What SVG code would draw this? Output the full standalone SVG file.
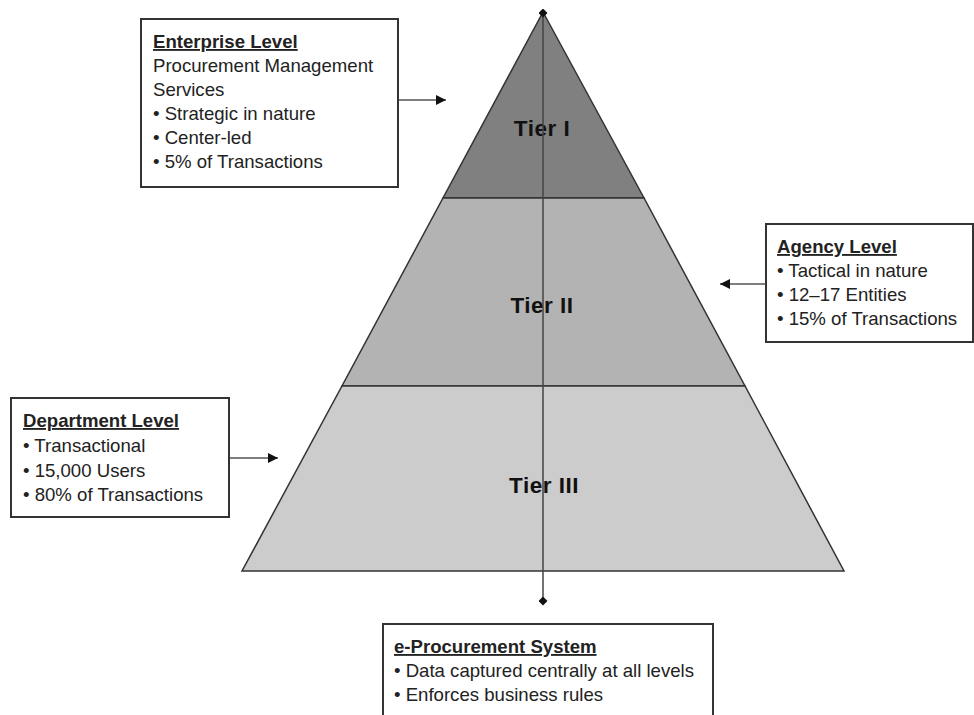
<svg xmlns="http://www.w3.org/2000/svg" width="974" height="715" viewBox="0 0 974 715">
<style>
.t{font-family:"Liberation Sans",Arial,sans-serif;font-size:18.6px;fill:#222}
.h{font-weight:bold;text-decoration:underline}
.tier{font-family:"Liberation Sans",Arial,sans-serif;font-size:22.5px;font-weight:bold;fill:#111;letter-spacing:0.5px;text-anchor:middle}
.box{fill:#fff;stroke:#333;stroke-width:2}
.lvl{stroke:#333;stroke-width:1.5}
.arr{stroke:#555;stroke-width:1.5;fill:none;marker-end:url(#ah)}
</style>
<defs>
<marker id="ah" viewBox="0 0 10 10" refX="10" refY="5" markerWidth="10" markerHeight="10" markerUnits="userSpaceOnUse" orient="auto">
<path d="M0,0 L10,5 L0,10 z" fill="#111"/>
</marker>
<marker id="dm" viewBox="0 0 10 10" refX="5" refY="5" markerWidth="9" markerHeight="9" markerUnits="userSpaceOnUse">
<path d="M5,0 L10,5 L5,10 L0,5 z" fill="#111"/>
</marker>
</defs>
<g id="pyramid">
<polygon points="543,12 644,198 443,198" fill="#808080" class="lvl"/>
<polygon points="443,198 644,198 745,386 342,386" fill="#b3b3b3" class="lvl"/>
<polygon points="342,386 745,386 844,571 242,571" fill="#cccccc" class="lvl"/>
<text class="tier" x="542" y="136">Tier I</text>
<text class="tier" x="542" y="313">Tier II</text>
<text class="tier" x="544" y="493">Tier III</text>
</g>
<g id="connectors">
<line x1="543" y1="13" x2="543" y2="601" stroke="#444" stroke-width="1.5" marker-start="url(#dm)" marker-end="url(#dm)"/>
<line class="arr" x1="398" y1="100" x2="446" y2="100"/>
<line class="arr" x1="766" y1="284" x2="720" y2="284"/>
<line class="arr" x1="229" y1="458" x2="278" y2="458"/>
</g>
<g id="enterprise">
<rect class="box" x="141" y="19" width="257" height="168"/>
<text class="t h" x="153" y="48">Enterprise Level</text>
<text class="t" x="153" y="72">Procurement Management</text>
<text class="t" x="153" y="96">Services</text>
<text class="t" x="153" y="120">• Strategic in nature</text>
<text class="t" x="153" y="144">• Center-led</text>
<text class="t" x="153" y="168">• 5% of Transactions</text>
</g>
<g id="agency">
<rect class="box" x="766" y="224" width="207" height="118"/>
<text class="t h" x="777" y="253">Agency Level</text>
<text class="t" x="777" y="277">• Tactical in nature</text>
<text class="t" x="777" y="301">• 12–17 Entities</text>
<text class="t" x="777" y="325">• 15% of Transactions</text>
</g>
<g id="department">
<rect class="box" x="11" y="398" width="218" height="119"/>
<text class="t h" x="23" y="427">Department Level</text>
<text class="t" x="23" y="452">• Transactional</text>
<text class="t" x="23" y="477">• 15,000 Users</text>
<text class="t" x="23" y="501">• 80% of Transactions</text>
</g>
<g id="eprocurement">
<rect class="box" x="383" y="624" width="330" height="100"/>
<text class="t h" x="394" y="653">e-Procurement System</text>
<text class="t" x="394" y="677">• Data captured centrally at all levels</text>
<text class="t" x="394" y="701">• Enforces business rules</text>
</g>
</svg>
